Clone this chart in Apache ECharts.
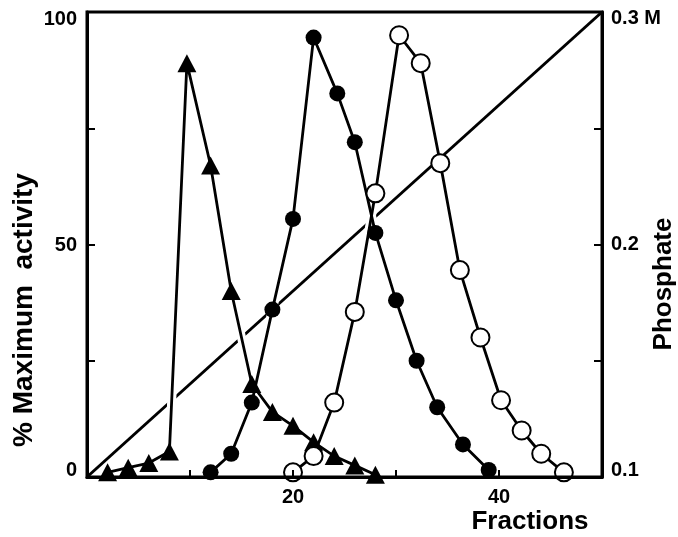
<!DOCTYPE html>
<html>
<head>
<meta charset="utf-8">
<script src="https://cdn.jsdelivr.net/npm/echarts@6/dist/echarts.min.js"></script>
<style>
html,body{margin:0;padding:0;background:#fff;}
#chart{width:678px;height:537px;}
</style>
</head>
<body>
<div id="chart"></div>
<script>
// ---- data ----
const triFractions    = [2, 4, 6, 8, 9.7, 12, 14, 16, 18, 20, 22, 24, 26, 28];
const triActivity     = [1, 2, 3, 5.5, 89, 67, 40, 20, 14, 11, 7.5, 4.5, 2.5, 0.5];
const filledFractions = [12, 14, 16, 18, 20, 22, 24.3, 26, 28, 30, 32, 34, 36.5, 39];
const filledActivity  = [1, 5, 16, 36, 55.5, 94.5, 82.5, 72, 52.5, 38, 25, 15, 7, 1.5];
const openFractions   = [20, 22, 24, 26, 28, 30.3, 32.4, 34.3, 36.2, 38.2, 40.2, 42.2, 44.1, 46.3];
const openActivity    = [1, 4.5, 16, 35.5, 61, 95, 89, 67.5, 44.5, 30, 16.5, 10, 5, 1];
const phosphateFractions = [0, 50];
const phosphateMolar     = [0.1, 0.3];
const leftTickLabels  = [0, 50, 100];
const rightTickLabels = [0.1, 0.2, 0.3];
const xTickLabels     = [20, 40];

function pairs(xs, ys){ return xs.map((x,i)=>[x, ys[i]]); }

const FONT = "'Liberation Sans', Arial, sans-serif";
const lbl = {fontFamily: FONT, fontWeight: 'bold', fontSize: 20, color: '#000'};

const chart = echarts.init(document.getElementById('chart'));

function halo(data){
  return {type:'line', data:data, symbol:'none', silent:true, z:2,
          lineStyle:{color:'#fff', width:9}, animation:false};
}

const option = {
  animation:false,
  backgroundColor:'#fff',
  grid:{left:87, right:76, top:12, bottom:60, show:true, borderColor:'#000', borderWidth:3, z:6, backgroundColor:'transparent'},
  xAxis:{
    type:'value', min:0, max:50, interval:10, z:6,
    axisLine:{show:true, lineStyle:{color:'#000', width:3}},
    axisTick:{show:true, inside:true, length:7, lineStyle:{color:'#000', width:2}},
    splitLine:{show:false},
    axisLabel:Object.assign({margin:10, formatter:function(v){return xTickLabels.indexOf(v)>=0? String(v):'';}}, lbl)
  },
  yAxis:[{
    type:'value', min:0, max:100, interval:25, position:'left', z:6,
    axisLine:{show:true, lineStyle:{color:'#000', width:3}},
    axisTick:{show:true, inside:true, length:8, lineStyle:{color:'#000', width:2}},
    splitLine:{show:false},
    axisLabel:{margin:10,
      formatter:function(v){
        if(leftTickLabels.indexOf(v)<0) return '';
        if(v===0) return '{lo|0}';
        if(v===100) return '{hi|100}';
        return '{md|'+v+'}';
      },
      rich:{
        lo:Object.assign({padding:[0,0,14,0]}, lbl),
        hi:Object.assign({padding:[15,0,0,0]}, lbl),
        md:Object.assign({padding:[2,0,0,0]}, lbl)
      }
    }
  },{
    type:'value', min:0.1, max:0.3, interval:0.05, position:'right', z:6,
    axisLine:{show:true, lineStyle:{color:'#000', width:3}},
    axisTick:{show:true, inside:true, length:8, lineStyle:{color:'#000', width:2}},
    splitLine:{show:false},
    axisLabel:{margin:9,
      formatter:function(v){
        const r = Math.round(v*100)/100;
        if(rightTickLabels.indexOf(r)<0) return '';
        if(r===0.1) return '{lo|0.1}';
        if(r===0.3) return '{hi|0.3 M}';
        return '{md|0.2}';
      },
      rich:{
        lo:Object.assign({padding:[0,0,13,0]}, lbl),
        hi:Object.assign({padding:[13,0,0,0]}, lbl),
        md:Object.assign({padding:[0,0,0,0]}, lbl)
      }
    }
  }],
  graphic:[
    {type:'text', x:24, y:310, rotation:Math.PI/2, z:10,
     style:{text:'% Maximum  activity', font:"bold 28px "+FONT, fill:'#000', textAlign:'center', textVerticalAlign:'middle'}},
    {type:'text', x:664, y:284, rotation:Math.PI/2, z:10,
     style:{text:'Phosphate', font:"bold 26px "+FONT, fill:'#000', textAlign:'center', textVerticalAlign:'middle'}},
    {type:'text', x:530, y:522, z:10,
     style:{text:'Fractions', font:"bold 26px "+FONT, fill:'#000', textAlign:'center', textVerticalAlign:'middle'}}
  ],
  series:[
    {type:'line', yAxisIndex:1, data:pairs(phosphateFractions, phosphateMolar), symbol:'none', z:1,
     lineStyle:{color:'#000', width:3}},
    halo(pairs(triFractions, triActivity)),
    halo(pairs(filledFractions, filledActivity)),
    halo(pairs(openFractions, openActivity)),
    {type:'line', data:pairs(triFractions, triActivity), z:3, symbol:'triangle', symbolSize:[19,18],
     lineStyle:{color:'#000', width:2.8}, itemStyle:{color:'#000', borderColor:'#000', borderWidth:0}},
    {type:'line', data:pairs(filledFractions, filledActivity), z:3, symbol:'circle', symbolSize:16,
     lineStyle:{color:'#000', width:2.8}, itemStyle:{color:'#000', borderColor:'#000', borderWidth:0}},
    {type:'line', data:pairs(openFractions, openActivity), z:3, symbol:'circle', symbolSize:18,
     lineStyle:{color:'#000', width:2.8}, itemStyle:{color:'#fff', borderColor:'#000', borderWidth:2}}
  ]
};
chart.setOption(option);
</script>
</body>
</html>
